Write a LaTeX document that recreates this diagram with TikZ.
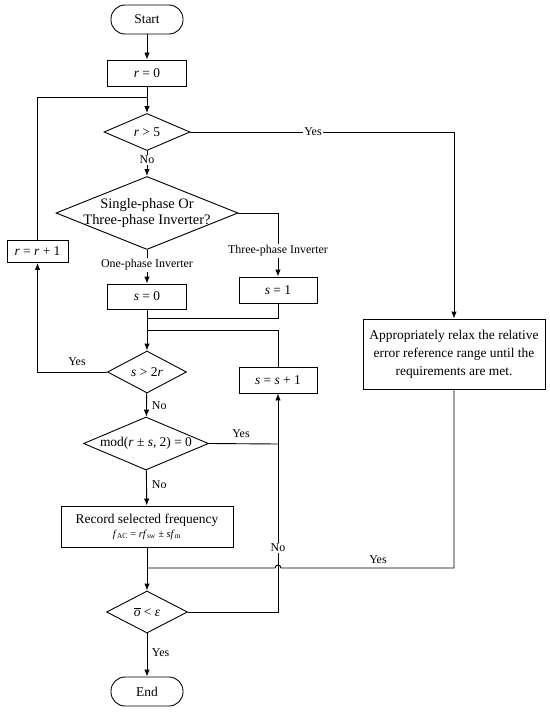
\documentclass[tikz,border=0pt]{standalone}
\usepackage{fontspec}
\setmainfont{Liberation Serif}
\usetikzlibrary{shapes.geometric,arrows.meta}
\newcommand\vi[1]{\textit{#1}}
\begin{document}
\begin{tikzpicture}[x=1bp,y=-1bp,line width=.9bp,
  every node/.style={font=\fontsize{13.5}{16}\selectfont},
  box/.style={draw,rectangle,inner sep=2bp},
  term/.style={draw,rectangle,rounded corners=14bp,minimum width=72bp,minimum height=29bp},
  dec/.style={draw,diamond,inner sep=0pt},
  lab/.style={font=\fontsize{12}{14}\selectfont,inner sep=1.5bp},
  arr/.style={-{Latex[length=7bp,width=5.5bp]}}]
\useasboundingbox (0,0) rectangle (550,713);
% main column
\node[term] (start) at (147,19.5) {Start};
\node[box,minimum width=79bp,minimum height=26bp] (rzero) at (147,73) {\vi{r} = 0};
\node[dec,minimum width=86bp,minimum height=37bp,label=center:{\vi{r} > 5}] (rcheck) at (147,132) {};
\node[dec,minimum width=182bp,minimum height=73bp,
  label={[align=center,font=\fontsize{14.5}{17}\selectfont]center:Single-phase Or\\Three-phase Inverter?}] (phase) at (147,213) {};
\node[box,minimum width=79bp,minimum height=25bp] (szero) at (147,296.5) {\vi{s} = 0};
\node[box,minimum width=78bp,minimum height=26bp] (sone) at (278,290) {\vi{s} = 1};
\node[dec,minimum width=79bp,minimum height=42bp,label=center:{\vi{s} > 2\vi{r}}] (sbig) at (147,372) {};
\node[box,minimum width=78bp,minimum height=26bp] (sinc) at (278,380) {\vi{s} = \vi{s} + 1};
\node[box,minimum width=61bp,minimum height=22bp] (rinc) at (37.5,251.5) {\vi{r} = \vi{r} + 1};
\node[dec,minimum width=125bp,minimum height=53bp,label={center:mod(\vi{r} ± \vi{s}, 2) = 0}] (modchk) at (146,443.5) {};
\node[box,minimum width=172bp,minimum height=41bp,align=center] (rec) at (147,526.5)
  {Record selected frequency\\[-2bp]{\fontsize{10.5}{11}\selectfont\vi{f}\textsubscript{AC} = \vi{rf}\textsubscript{sw} ± \vi{sf}\textsubscript{m}}};
\node[dec,minimum width=81bp,minimum height=42bp,label=center:{$\overline{\mbox{\vi{o}}}$ < \vi{ε}}] (ochk) at (147,612) {};
\node[term,minimum height=29bp] (stop) at (147,691.5) {End};
% right column
\node[box,minimum width=182bp,minimum height=70bp,align=center,font=\fontsize{13.5}{18}\selectfont] (relax) at (454,354)
  {Appropriately relax the relative\\error reference range until the\\requirements are met.};
% junctions
\coordinate (jr) at (147,97);
\coordinate (js) at (147,318);
\coordinate (jt) at (147,330);
\coordinate (jm) at (278,444);
\coordinate (jo) at (147,568);
% connectors
\foreach \a/\b in {start/rzero,rzero/rcheck,rcheck/phase,phase/szero,szero/sbig,sbig/modchk,modchk/rec,rec/ochk,ochk/stop}
  \draw[arr] (\a) -- (\b);
\draw (rinc.north) |- (jr);
\draw[arr] (rcheck.east) -| (relax.north);
\draw[arr] (phase.east) -| (sone.north);
\draw (sone.south) |- (js);
\draw (sinc.north) |- (jt);
\draw[arr] (sbig.west) -| (rinc.south);
\draw (modchk.east) -- (jm);
\draw[arr] (ochk.east) -| (sinc.south);
\draw (relax.south) |- ([xshift=3bp]jm |- jo) arc[start angle=0,end angle=180,radius=3bp] -- (jo);
% labels
\node[lab,fill=white] (yr) at (313,132) {Yes};
\node[lab,fill=white] (nr) at (147,160) {No};
\node[lab,fill=white] (one) at (147,265) {One-phase Inverter};
\node[lab,fill=white] (three) at (278,251) {Three-phase Inverter};
\node[lab] (ys) at (77,362) {Yes};
\node[lab,anchor=west] (ns) at (150,405.5) {No};
\node[lab] (ym) at (241,434) {Yes};
\node[lab,anchor=west] (nm) at (150,485) {No};
\node[lab,fill=white] (no) at (278,548) {No};
\node[lab] (yo) at (378,560) {Yes};
\node[lab,anchor=west] (ye) at (150,653) {Yes};
\end{tikzpicture}
\end{document}
